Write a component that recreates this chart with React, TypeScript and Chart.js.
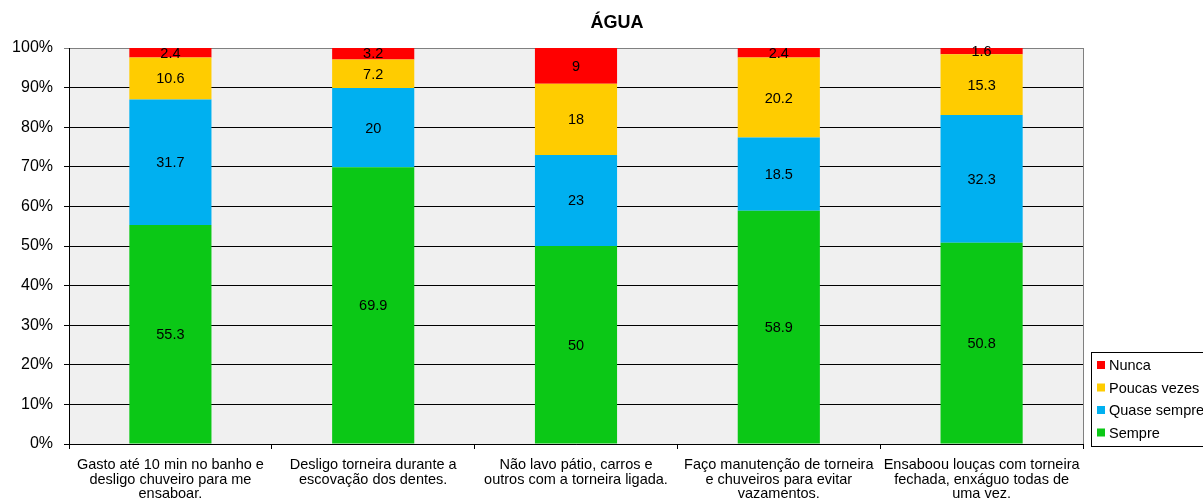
import React, { useEffect, useRef } from "react";
import { Chart, registerables } from "chart.js";

Chart.register(...registerables);

const categories: string[][] = [
  ["Gasto até 10 min no banho e", "desligo chuveiro para me", "ensaboar."],
  ["Desligo torneira durante a", "escovação dos dentes."],
  ["Não lavo pátio, carros e", "outros com a torneira ligada."],
  ["Faço manutenção de torneira", "e chuveiros para evitar", "vazamentos."],
  ["Ensaboou louças com torneira", "fechada, enxáguo todas de", "uma vez."],
];

const sempre = [55.3, 69.9, 50, 58.9, 50.8];
const quaseSempre = [31.7, 20, 23, 18.5, 32.3];
const poucasVezes = [10.6, 7.2, 18, 20.2, 15.3];
const nunca = [2.4, 3.2, 9, 2.4, 1.6];

const seriesNames = ["Sempre", "Quase sempre", "Poucas vezes", "Nunca"];
const seriesColors = ["#0BC816", "#00B0F0", "#FFCC00", "#FF0000"];

const titleText = "ÁGUA";
const FONT = "Arial, 'Liberation Sans', sans-serif";

// Plot background, right border, title, value labels and legend box
const decorations = {
  id: "decorations",
  beforeDraw(chart: any) {
    const { ctx, chartArea } = chart;
    ctx.save();
    ctx.fillStyle = "#F0F0F0";
    ctx.fillRect(chartArea.left, chartArea.top, chartArea.right - chartArea.left, chartArea.bottom - chartArea.top);
    ctx.restore();
  },
  afterDraw(chart: any) {
    const { ctx, chartArea } = chart;
    ctx.save();
    // right border of plot
    ctx.strokeStyle = "#808080";
    ctx.lineWidth = 1;
    ctx.beginPath();
    ctx.moveTo(Math.round(chartArea.right) + 0.5, chartArea.top);
    ctx.lineTo(Math.round(chartArea.right) + 0.5, chartArea.bottom);
    ctx.stroke();

    // title
    ctx.fillStyle = "#000";
    ctx.font = `bold 18px ${FONT}`;
    ctx.textAlign = "center";
    ctx.textBaseline = "middle";
    ctx.fillText(titleText, 617, 23);

    // value labels in the middle of each segment
    ctx.font = `14.5px ${FONT}`;
    chart.data.datasets.forEach((ds: any, di: number) => {
      const meta = chart.getDatasetMeta(di);
      meta.data.forEach((bar: any, i: number) => {
        const y = (bar.y + bar.base) / 2;
        ctx.fillText(String(ds.data[i]), bar.x, y + 1);
      });
    });

    // legend
    const lx = 1091.5;
    const ly = 352.5;
    ctx.fillStyle = "#FFFFFF";
    ctx.fillRect(lx, ly, 200, 94);
    ctx.strokeStyle = "#000";
    ctx.strokeRect(lx, ly, 200, 94);
    const rows = [3, 2, 1, 0];
    ctx.textAlign = "left";
    ctx.font = `14.5px ${FONT}`;
    rows.forEach((si, r) => {
      const cy = 365 + r * 22.5;
      ctx.fillStyle = seriesColors[si];
      ctx.fillRect(1097, cy - 4, 8, 8);
      ctx.fillStyle = "#000";
      ctx.fillText(seriesNames[si], 1109, cy + 1);
    });
    ctx.restore();
  },
};

export default function App() {
  const canvasRef = useRef<HTMLCanvasElement | null>(null);

  useEffect(() => {
    document.body.style.margin = "0";
    const canvas = canvasRef.current;
    if (!canvas) return;
    const values = [sempre, quaseSempre, poucasVezes, nunca];
    const chart = new Chart(canvas, {
      type: "bar",
      data: {
        labels: categories,
        datasets: values.map((data, i) => ({
          label: seriesNames[i],
          data,
          backgroundColor: seriesColors[i],
          borderWidth: 0,
          categoryPercentage: 1,
          barPercentage: 0.405,
          clip: 0,
        })),
      },
      options: {
        animation: false,
        responsive: false,
        maintainAspectRatio: false,
        layout: { padding: { top: 48, right: 120, left: 0, bottom: 0 } },
        plugins: {
          legend: { display: false },
          title: { display: false },
          tooltip: { enabled: false },
        },
        scales: {
          x: {
            stacked: true,
            afterFit: (s: any) => {
              s.height = 57;
            },
            grid: {
              display: true,
              drawOnChartArea: false,
              drawTicks: true,
              tickLength: 5,
              color: "#000",
              offset: true,
            },
            border: { display: true, color: "#000" },
            ticks: {
              color: "#000",
              font: { family: FONT, size: 14.5, lineHeight: 1.0 },
              maxRotation: 0,
              autoSkip: false,
              padding: 9,
            },
          },
          y: {
            stacked: true,
            min: 0,
            max: 100,
            afterFit: (s: any) => {
              s.width = 69;
            },
            grid: {
              color: (c: any) => (c.tick && c.tick.value === 100 ? "#808080" : "#000"),
              tickLength: 5,
            },
            border: { display: true, color: "#000" },
            ticks: {
              stepSize: 10,
              color: "#000",
              font: { family: FONT, size: 16 },
              padding: 11,
              callback: (v: any) => `${v}%`,
            },
          },
        },
      },
      plugins: [decorations],
    });
    return () => chart.destroy();
  }, []);

  return (
    <div style={{ position: "absolute", left: 0, top: 0, width: 1203, height: 501, background: "#fff" }}>
      <canvas ref={canvasRef} width={1203} height={501} style={{ display: "block" }} />
    </div>
  );
}
